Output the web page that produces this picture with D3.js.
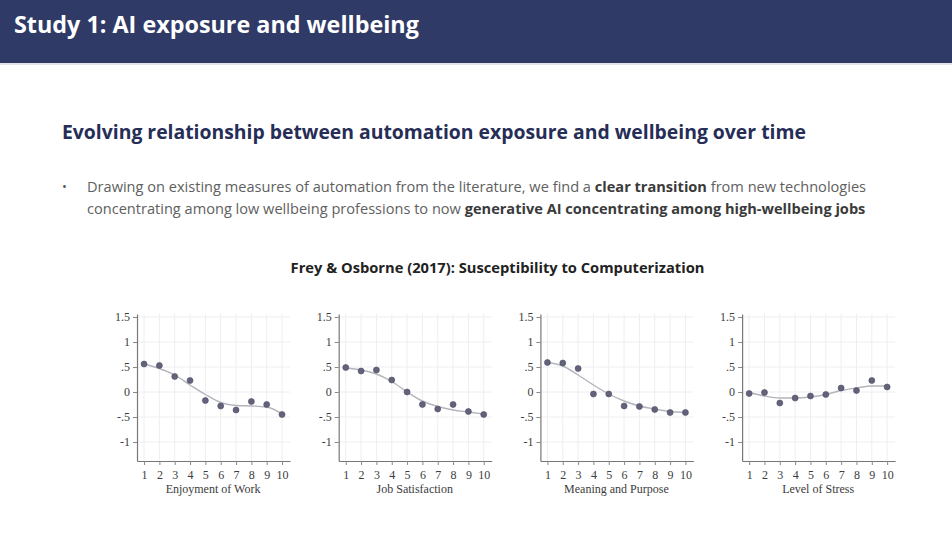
<!DOCTYPE html>
<html>
<head>
<meta charset="utf-8">
<script src="https://cdn.jsdelivr.net/npm/d3@7"></script>
<style>
  body { margin: 0; background: #fff; }
  svg { display: block; }
</style>
</head>
<body>
<svg id="slide" width="952" height="542"></svg>
<script>
// Slide values
const deciles = [1, 2, 3, 4, 5, 6, 7, 8, 9, 10];
const panelTitles = ["Enjoyment of Work", "Job Satisfaction", "Meaning and Purpose", "Level of Stress"];
const yTicks = [-1, -0.5, 0, 0.5, 1, 1.5];
const yTickLabels = ["-1", "-.5", "0", ".5", "1", "1.5"];

// binned means (dots)
const enjoymentPoints = [0.56, 0.53, 0.31, 0.23, -0.17, -0.28, -0.36, -0.19, -0.25, -0.45];
const satisfactionPoints = [0.49, 0.42, 0.44, 0.24, 0.0, -0.25, -0.34, -0.25, -0.39, -0.45];
const meaningPoints = [0.59, 0.58, 0.47, -0.04, -0.04, -0.28, -0.29, -0.35, -0.41, -0.41];
const stressPoints = [-0.03, -0.01, -0.22, -0.12, -0.08, -0.05, 0.08, 0.03, 0.23, 0.10];

// smoothed fit (grey line)
const enjoymentFit = [0.56, 0.47, 0.34, 0.14, -0.05, -0.21, -0.27, -0.28, -0.30, -0.44];
const satisfactionFit = [0.48, 0.44, 0.36, 0.21, 0.0, -0.18, -0.29, -0.36, -0.40, -0.44];
const meaningFit = [0.59, 0.52, 0.34, 0.14, -0.04, -0.18, -0.28, -0.34, -0.39, -0.41];
const stressFit = [-0.01, -0.08, -0.12, -0.12, -0.10, -0.05, 0.03, 0.08, 0.12, 0.12];

const pointSeries = [enjoymentPoints, satisfactionPoints, meaningPoints, stressPoints];
const fitSeries = [enjoymentFit, satisfactionFit, meaningFit, stressFit];

const PANEL = {left: 137, step: 201.7, width: 153, top: 314, bottom: 461};
const SANS = "'Open Sans', 'Noto Sans', sans-serif";
const SERIF = "'Liberation Serif', 'DejaVu Serif', serif";

const svg = d3.select("#slide");

// shrink/grow a text so it spans a given width
function fitWidth(text, target) {
    const size = parseFloat(text.attr("font-size"));
    const w = text.node().getComputedTextLength();
    text.attr("font-size", (size * target / w).toFixed(2));
}

function drawHeader() {
    svg.append("rect")
        .attr("x", 0).attr("y", 0)
        .attr("width", 952).attr("height", 63)
        .attr("fill", "#2f3a67");
    svg.append("rect")
        .attr("x", 0).attr("y", 63)
        .attr("width", 952).attr("height", 2)
        .attr("fill", "#e4e4ea");

    const title = svg.append("text")
        .attr("x", 14).attr("y", 33)
        .attr("font-family", SANS)
        .attr("font-weight", 700)
        .attr("font-size", 21)
        .attr("fill", "#ffffff")
        .text("Study 1: AI exposure and wellbeing");
    fitWidth(title, 405);

    const sub = svg.append("text")
        .attr("x", 62).attr("y", 139)
        .attr("font-family", SANS)
        .attr("font-weight", 700)
        .attr("font-size", 17)
        .attr("fill", "#262d56")
        .text("Evolving relationship between automation exposure and wellbeing over time");
    fitWidth(sub, 744);
}

function drawBullet() {
    svg.append("text")
        .attr("x", 62).attr("y", 191)
        .attr("font-family", SANS)
        .attr("font-size", 13)
        .attr("fill", "#555")
        .text("•");

    const lines = [
        [["Drawing on existing measures of automation from the literature, we find a ", 400], ["clear transition", 700], [" from new technologies", 400]],
        [["concentrating among low wellbeing professions to now ", 400], ["generative AI concentrating among high-wellbeing jobs", 700]]
    ];
    lines.forEach((parts, i) => {
        const t = svg.append("text")
            .attr("x", 87).attr("y", 192 + i * 21.5)
            .attr("font-family", SANS)
            .attr("font-size", 13)
            .attr("fill", "#595959");
        parts.forEach(([s, w]) => {
            t.append("tspan")
                .attr("font-weight", w)
                .attr("fill", w === 700 ? "#3a3a3a" : "#606060")
                .text(s);
        });
        fitWidth(t, 779);
    });
}

function drawChartTitle() {
    const t = svg.append("text")
        .attr("x", 497.5).attr("y", 273)
        .attr("text-anchor", "middle")
        .attr("font-family", SANS)
        .attr("font-weight", 700)
        .attr("font-size", 13)
        .attr("fill", "#222")
        .text("Frey & Osborne (2017): Susceptibility to Computerization");
    fitWidth(t, 414);
}

function drawPanel(i) {
    const x0 = PANEL.left + i * PANEL.step;
    const xScale = d3.scaleLinear()
        .domain([0.54, 10.52])
        .range([x0, x0 + PANEL.width]);
    const yScale = d3.scaleLinear()
        .domain([-1.38, 1.56])
        .range([PANEL.bottom, PANEL.top]);

    const g = svg.append("g").attr("class", "panel");

    // light grid
    g.append("g").selectAll("line.vgrid")
        .data(deciles)
        .enter().append("line")
        .attr("x1", d => xScale(d)).attr("x2", d => xScale(d))
        .attr("y1", PANEL.top).attr("y2", PANEL.bottom)
        .attr("stroke", "#eeeef2").attr("stroke-width", 1);
    g.append("g").selectAll("line.hgrid")
        .data(yTicks)
        .enter().append("line")
        .attr("x1", x0).attr("x2", x0 + PANEL.width)
        .attr("y1", d => yScale(d)).attr("y2", d => yScale(d))
        .attr("stroke", "#eeeef2").attr("stroke-width", 1);

    // axes
    const xAxis = g.append("g")
        .attr("transform", "translate(0," + PANEL.bottom + ")")
        .call(d3.axisBottom(xScale).tickValues(deciles).tickSize(4).tickPadding(5).tickSizeOuter(0));
    const yAxis = g.append("g")
        .attr("transform", "translate(" + x0 + ",0)")
        .call(d3.axisLeft(yScale).tickValues(yTicks).tickFormat((d, k) => yTickLabels[k])
            .tickSize(4).tickPadding(3).tickSizeOuter(0));
    [xAxis, yAxis].forEach(a => {
        a.select(".domain").attr("stroke", "#777").attr("stroke-width", 1.2);
        a.selectAll(".tick line").attr("stroke", "#888");
        a.selectAll(".tick text")
            .attr("font-family", SERIF)
            .attr("font-size", 12)
            .attr("fill", "#3c3c3c");
    });

    // axis title
    g.append("text")
        .attr("x", xScale(5.5)).attr("y", 493)
        .attr("text-anchor", "middle")
        .attr("font-family", SERIF)
        .attr("font-size", 12)
        .attr("fill", "#3c3c3c")
        .text(panelTitles[i]);

    // smooth fit
    const line = d3.line()
        .x((d, k) => xScale(deciles[k]))
        .y(d => yScale(d))
        .curve(d3.curveMonotoneX);
    g.append("path")
        .datum(fitSeries[i])
        .attr("d", line)
        .attr("fill", "none")
        .attr("stroke", "#b4b4bc")
        .attr("stroke-width", 1.4);

    // dots
    g.selectAll("circle.dot")
        .data(pointSeries[i])
        .enter().append("circle")
        .attr("class", "dot")
        .attr("cx", (d, k) => xScale(deciles[k]))
        .attr("cy", d => yScale(d))
        .attr("r", 3)
        .attr("fill", "#62627a")
        .attr("stroke", "#4e4e64")
        .attr("stroke-width", 0.6);
}

drawHeader();
drawBullet();
drawChartTitle();
panelTitles.forEach((t, i) => drawPanel(i));
</script>
</body>
</html>
